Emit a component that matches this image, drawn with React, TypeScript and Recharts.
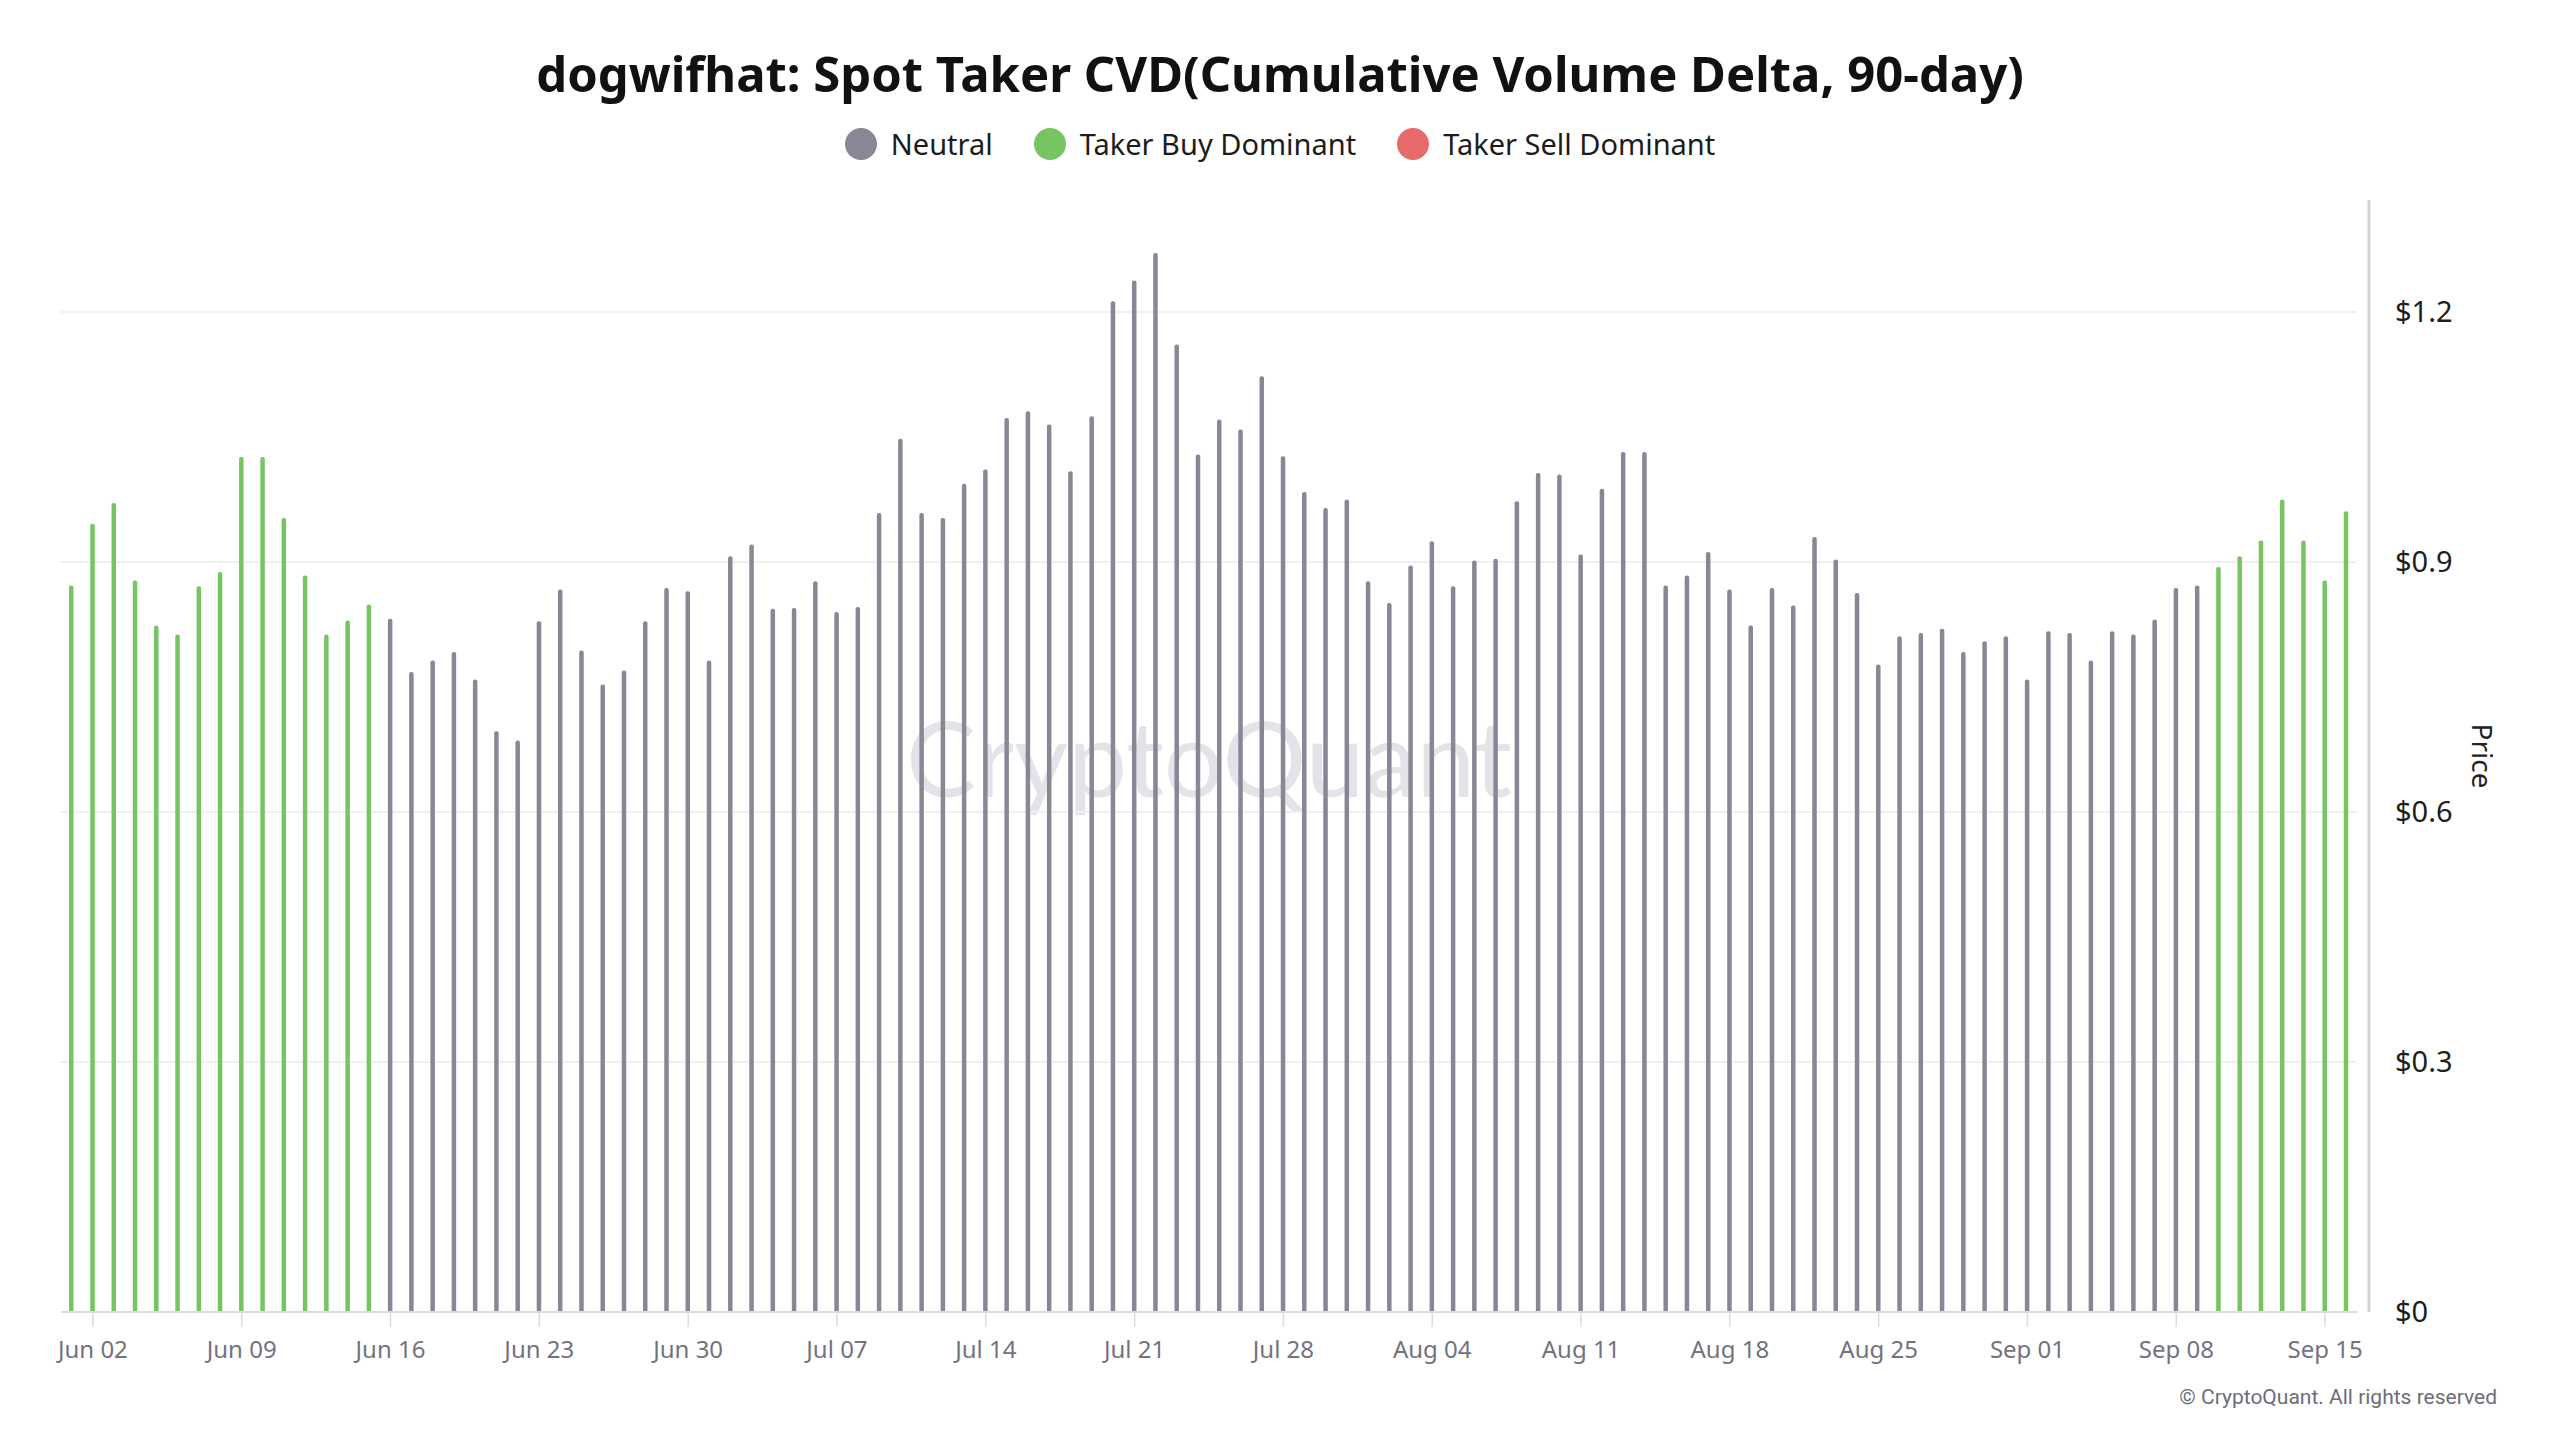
import React from 'react';
import { BarChart, Bar, XAxis, YAxis, CartesianGrid, Legend } from 'recharts';

const FONT = '"Noto Sans", "DejaVu Sans", sans-serif';

const months = ['Jun', 'Jul', 'Aug', 'Sep'];

const junPrice = [
  0.872, 0.946, 0.971, 0.878, 0.824, 0.813, 0.871, 0.888, 1.026, 1.026,
  0.953, 0.884, 0.813, 0.830, 0.849, 0.832, 0.768, 0.782, 0.792, 0.759,
  0.697, 0.686, 0.829, 0.867, 0.794, 0.753, 0.770, 0.829, 0.869, 0.865,
];
const julPrice = [
  0.782, 0.907, 0.921, 0.844, 0.845, 0.877, 0.840, 0.846, 0.959, 1.048,
  0.959, 0.953, 0.994, 1.011, 1.073, 1.081, 1.065, 1.009, 1.075, 1.213,
  1.238, 1.271, 1.161, 1.029, 1.071, 1.059, 1.123, 1.027, 0.984, 0.965,
  0.975,
];
const augPrice = [
  0.877, 0.851, 0.896, 0.925, 0.871, 0.902, 0.904, 0.973, 1.007, 1.005,
  0.909, 0.988, 1.032, 1.032, 0.872, 0.884, 0.912, 0.867, 0.824, 0.869,
  0.848, 0.930, 0.903, 0.863, 0.777, 0.811, 0.815, 0.820, 0.792, 0.805,
  0.811,
];
const sepPrice = [
  0.759, 0.817, 0.815, 0.782, 0.817, 0.813, 0.831, 0.869, 0.872, 0.894,
  0.907, 0.926, 0.975, 0.926, 0.878, 0.961,
];

// N = Neutral, B = Taker Buy Dominant, S = Taker Sell Dominant
const junStatus = 'BBBBBBBBBBBBBBBNNNNNNNNNNNNNNN';
const julStatus = 'NNNNNNNNNNNNNNNNNNNNNNNNNNNNNNN';
const augStatus = 'NNNNNNNNNNNNNNNNNNNNNNNNNNNNNNN';
const sepStatus = 'NNNNNNNNNBBBBBBB';

const xTicks = [
  'Jun 02', 'Jun 09', 'Jun 16', 'Jun 23', 'Jun 30', 'Jul 07', 'Jul 14', 'Jul 21',
  'Jul 28', 'Aug 04', 'Aug 11', 'Aug 18', 'Aug 25', 'Sep 01', 'Sep 08', 'Sep 15',
];
const yTicks = [0, 0.3, 0.6, 0.9, 1.2];

const COLORS = { neutral: '#878795', buy: '#77c463', sell: '#e66a6a' };

const prices = [junPrice, julPrice, augPrice, sepPrice];
const statuses = [junStatus, julStatus, augStatus, sepStatus];

const data = months.flatMap((m, mi) =>
  prices[mi].map((p, di) => {
    const s = statuses[mi][di];
    return {
      date: `${m} ${String(di + 1).padStart(2, '0')}`,
      neutral: s === 'N' ? p : null,
      buy: s === 'B' ? p : null,
      sell: s === 'S' ? p : null,
    };
  })
);

const renderLegend = (props: any) => {
  const items = props.payload || [];
  return (
    <div
      style={{
        display: 'flex',
        justifyContent: 'center',
        alignItems: 'center',
        height: 40,
        fontFamily: FONT,
      }}
    >
      {items.map((p: any, i: number) => (
        <div
          key={i}
          style={{ display: 'flex', alignItems: 'center', marginLeft: i === 0 ? 0 : 41 }}
        >
          <span
            style={{
              display: 'inline-block',
              width: 32,
              height: 32,
              borderRadius: '50%',
              background: p.color,
              marginRight: 14,
            }}
          />
          <span style={{ fontSize: 29, color: '#1c1c1c', lineHeight: '40px' }}>{p.value}</span>
        </div>
      ))}
    </div>
  );
};

const PriceLabel = (props: any) => {
  const vb = props.viewBox || {};
  const x = vb.x + 126;
  const y = vb.y + vb.height / 2;
  return (
    <text
      x={x}
      y={y}
      transform={`rotate(90, ${x}, ${y})`}
      textAnchor="middle"
      dominantBaseline="central"
      fontSize={28}
      fill="#222"
      fontFamily={FONT}
    >
      Price
    </text>
  );
};

export default function App() {
  const W = 2560;
  const H = 1440;
  const margin = { top: 200, right: 63, bottom: 68, left: 61 };
  const plotW = W - margin.left - margin.right - 140;
  const plotCenterY = margin.top + (H - margin.top - margin.bottom - 60) / 2;
  return (
    <div
      style={{
        position: 'absolute',
        left: 0,
        top: 0,
        width: W,
        height: H,
        background: '#ffffff',
        fontFamily: FONT,
        overflow: 'hidden',
      }}
    >
      <div
        style={{
          position: 'absolute',
          left: 0,
          top: 43,
          width: W,
          height: 60,
          lineHeight: '60px',
          textAlign: 'center',
          fontSize: 49,
          fontWeight: 700,
          color: '#111',
        }}
      >
        dogwifhat: Spot Taker CVD(Cumulative Volume Delta, 90-day)
      </div>
      <div
        style={{
          position: 'absolute',
          left: margin.left,
          width: plotW,
          top: plotCenterY - 70,
          height: 140,
          lineHeight: '140px',
          textAlign: 'center',
          fontSize: 105,
          fontFamily: 'Lato, sans-serif',
          color: '#e3e3e9',
        }}
      >
        CryptoQuant
      </div>
      <div style={{ position: 'absolute', left: 0, top: 0 }}>
        <BarChart width={W} height={H} data={data} margin={margin} barCategoryGap={0}>
          <CartesianGrid vertical={false} horizontalValues={yTicks} stroke="#f0f0f3" strokeWidth={2} />
          <XAxis
            dataKey="date"
            ticks={xTicks}
            interval={0}
            height={60}
            tickSize={15}
            tickMargin={14}
            axisLine={{ stroke: '#dcdce0', strokeWidth: 2 }}
            tickLine={{ stroke: '#dcdce0', strokeWidth: 1.5 }}
            tick={{ fill: '#727281', fontSize: 24, fontFamily: FONT }}
          />
          <YAxis
            orientation="right"
            width={140}
            domain={[0, (max: number) => max * 1.05]}
            ticks={yTicks}
            tickFormatter={(v: number) => `$${v}`}
            tickLine={false}
            tickSize={8}
            tickMargin={30}
            axisLine={{ stroke: '#d4d4d8', strokeWidth: 3, transform: 'translate(12,0)' }}
            tick={{ fill: '#1e1e1e', fontSize: 29, fontFamily: FONT }}
            label={{ content: PriceLabel }}
          />
          <Legend
            layout="horizontal"
            verticalAlign="middle"
            align="center"
            wrapperStyle={{ top: 124, left: 0, width: W }}
            content={renderLegend}
          />
          <Bar dataKey="neutral" name="Neutral" stackId="p" fill={COLORS.neutral} barSize={4.5} radius={[2, 2, 0, 0]} isAnimationActive={false} />
          <Bar dataKey="buy" name="Taker Buy Dominant" stackId="p" fill={COLORS.buy} barSize={4.5} radius={[2, 2, 0, 0]} isAnimationActive={false} />
          <Bar dataKey="sell" name="Taker Sell Dominant" stackId="p" fill={COLORS.sell} barSize={4.5} radius={[2, 2, 0, 0]} isAnimationActive={false} />
        </BarChart>
      </div>
      <div
        style={{
          position: 'absolute',
          right: 63,
          top: 1382,
          height: 30,
          lineHeight: '30px',
          fontSize: 21,
          fontFamily: 'Roboto, sans-serif',
          color: '#6d6d7a',
        }}
      >
        © CryptoQuant. All rights reserved
      </div>
    </div>
  );
}
